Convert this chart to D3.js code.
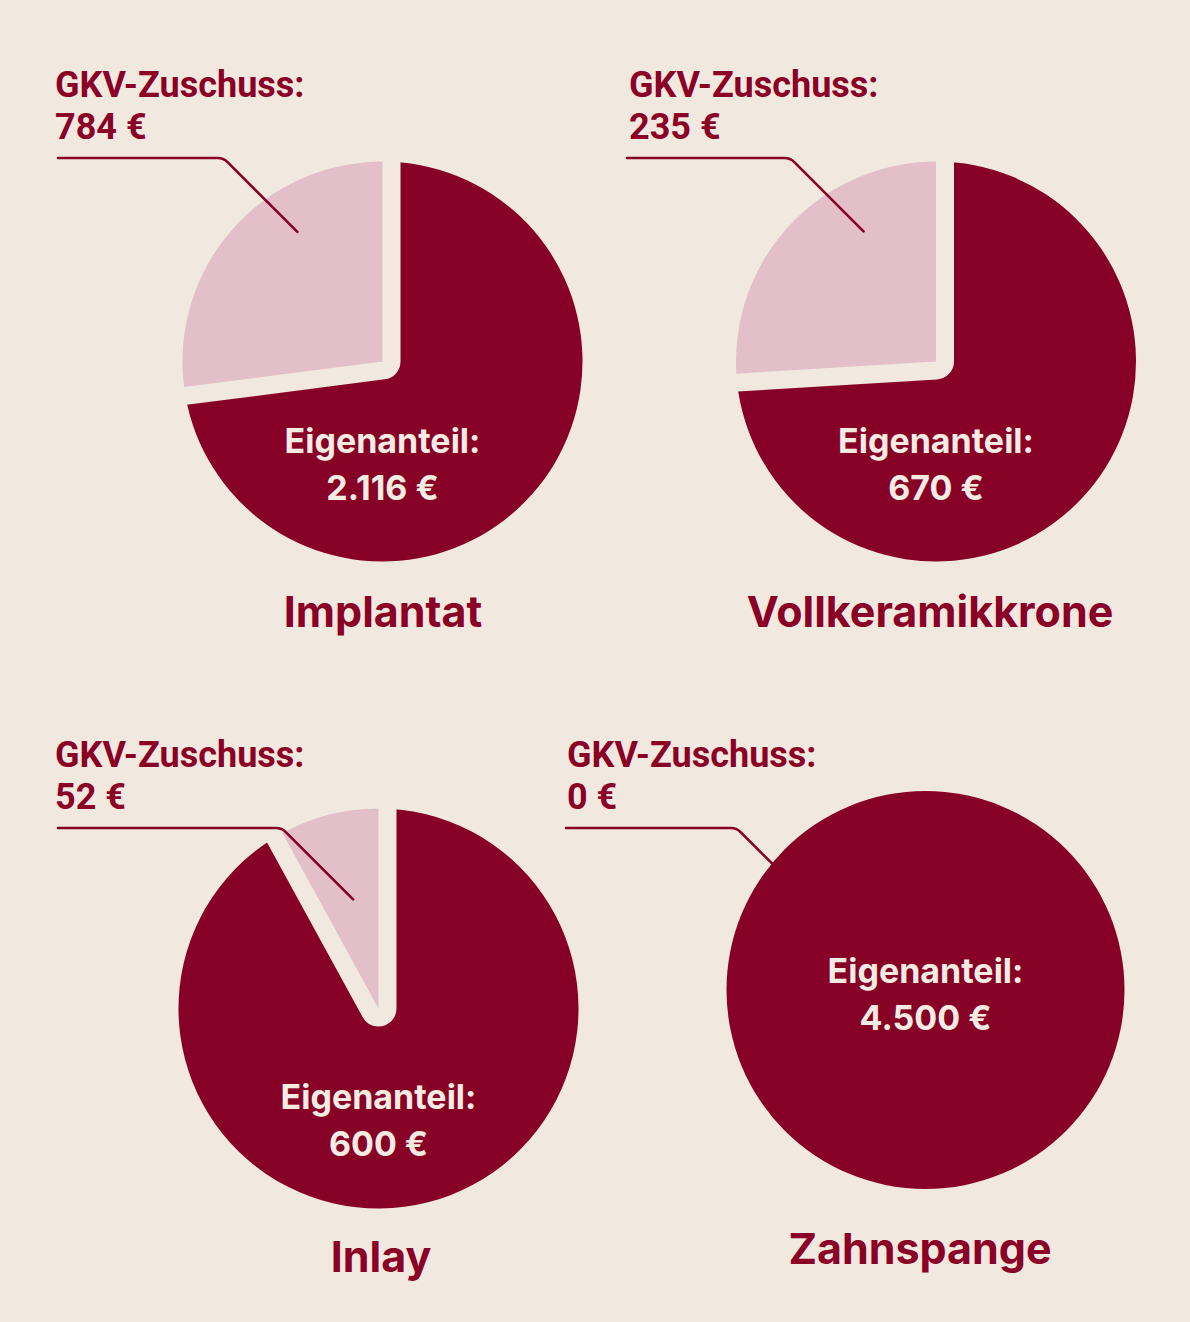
<!DOCTYPE html>
<html>
<head>
<meta charset="utf-8">
<script src="https://cdn.jsdelivr.net/npm/d3@7"></script>
<style>
    body { margin: 0; background: #f1e9df; }
    svg { display: block; }
    .gkv { font-family: Roboto, sans-serif; font-weight: 700; font-size: 36px; fill: #8a0026; }
    .own { font-family: Inter, sans-serif; font-weight: 700; font-size: 34px; fill: #f4ece3; text-anchor: middle; }
    .title { font-family: Inter, sans-serif; font-weight: 700; font-size: 43px; fill: #8a0026; text-anchor: middle; }
</style>
</head>
<body>
<svg id="chart"></svg>
<script>
//data
var treatments = ['Implantat', 'Vollkeramikkrone', 'Inlay', 'Zahnspange'];
var gkvShare = [784, 235, 52, 0];
var ownShare = [2116, 670, 600, 4500];
var labelText = { gkv: 'GKV-Zuschuss:', own: 'Eigenanteil:' };

//layout per chart (centre, label column, leader end as angle/radius)
var layout = [
    { cx: 382.5, cy: 361.5, r: 200, labelX: 55, lineX: 58, lineY: 158,
      leadA: -33.3, leadR: 155, ownDy: 91, titleX: 383, titleY: 627 },
    { cx: 936, cy: 361.5, r: 200, labelX: 629, lineX: 627, lineY: 158,
      leadA: -29.1, leadR: 149, ownDy: 91, titleX: 930, titleY: 627 },
    { cx: 378.5, cy: 1008.5, r: 200, labelX: 55, lineX: 58, lineY: 828,
      leadA: -13.1, leadR: 112, ownDy: 100, titleX: 381, titleY: 1272 },
    { cx: 925.5, cy: 990, r: 199, labelX: 567, lineX: 566, lineY: 828,
      leadA: -50.5, leadR: 199, ownDy: -7, titleX: 920, titleY: 1264 }
];

var C = {
    bg: '#f1e9df', dark: '#870026', pink: '#e3bfc9',
    gap: 18, lineH: 42, ownLineH: 47
};

var W = 1190, H = 1322;
var de = d3.formatLocale({ decimal: ',', thousands: '.', grouping: [3], currency: ['', ' €'] });
var euro = function (v) { return de.format(',.0f')(v) + ' €'; };

var svg = d3.select('#chart').attr('width', W).attr('height', H);
svg.append('rect').attr('width', W).attr('height', H).attr('fill', C.bg);

var pie = d3.pie().sort(null).value(function (d) { return d; });

treatments.forEach(function (name, i) {
    var L = layout[i];
    var slices = pie([ownShare[i], gkvShare[i]]);
    var arc = d3.arc().innerRadius(0).outerRadius(L.r);

    var g = svg.append('g').attr('transform', 'translate(' + L.cx + ',' + L.cy + ')');

    //own share
    g.append('path').attr('d', arc(slices[0])).attr('fill', C.dark);

    //gkv share, with a cream gap cut out of the dark slice
    if (gkvShare[i] > 0) {
        g.append('path').attr('d', arc(slices[1]))
            .attr('fill', C.bg).attr('stroke', C.bg)
            .attr('stroke-width', C.gap * 2).attr('stroke-linejoin', 'round');
        g.append('path').attr('d', arc(slices[1])).attr('fill', C.pink);
    }

    //leader line
    var end = d3.pointRadial(L.leadA * Math.PI / 180, L.leadR);
    var ex = L.cx + end[0], ey = L.cy + end[1];
    var p = d3.path();
    p.moveTo(L.lineX, L.lineY);
    p.arcTo(ex - (ey - L.lineY), L.lineY, ex, ey, 14);
    p.lineTo(ex, ey);
    svg.append('path').attr('d', p.toString())
        .attr('fill', 'none').attr('stroke', C.dark)
        .attr('stroke-width', 2.6).attr('stroke-linecap', 'round');

    //gkv label
    svg.append('text').attr('class', 'gkv')
        .attr('x', L.labelX).attr('y', L.lineY - 19 - C.lineH)
        .text(labelText.gkv);
    svg.append('text').attr('class', 'gkv')
        .attr('x', L.labelX).attr('y', L.lineY - 19)
        .text(euro(gkvShare[i]));

    //own label
    g.append('text').attr('class', 'own')
        .attr('y', L.ownDy).text(labelText.own);
    g.append('text').attr('class', 'own')
        .attr('y', L.ownDy + C.ownLineH).text(euro(ownShare[i]));

    //title
    svg.append('text').attr('class', 'title')
        .attr('x', L.titleX).attr('y', L.titleY).text(name);
});
</script>
</body>
</html>
